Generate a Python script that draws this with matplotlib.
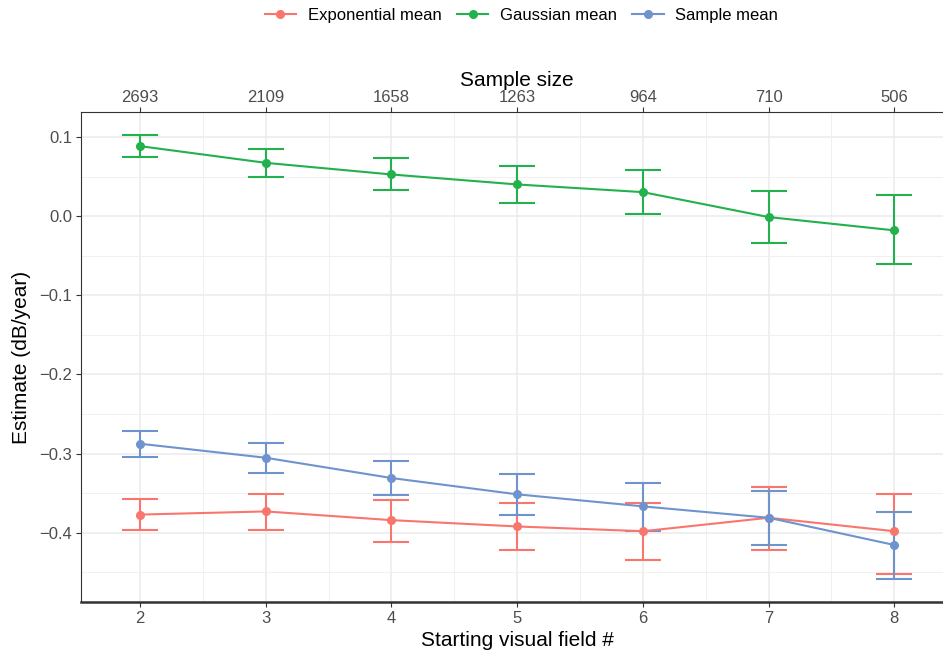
import matplotlib.pyplot as plt
from matplotlib.ticker import MultipleLocator, FixedLocator
from matplotlib.lines import Line2D

plt.rcParams['font.family'] = ['Liberation Sans', 'DejaVu Sans']

# starting visual field and sample sizes
fields = [2, 3, 4, 5, 6, 7, 8]
sample_sizes = ["2693", "2109", "1658", "1263", "964", "710", "506"]

# estimates with lower / upper bounds
exp_mean = [-0.377, -0.373, -0.384, -0.392, -0.398, -0.381, -0.398]
exp_lo = [-0.3965, -0.3965, -0.4116, -0.4221, -0.4343, -0.4213, -0.4516]
exp_hi = [-0.3577, -0.3514, -0.3586, -0.3628, -0.3628, -0.3418, -0.3506]

gau_mean = [0.0884, 0.0673, 0.0526, 0.040, 0.0303, -0.0012, -0.018]
gau_lo = [0.0745, 0.0496, 0.0328, 0.0168, 0.0021, -0.0345, -0.0606]
gau_hi = [0.1026, 0.0846, 0.0728, 0.0635, 0.0585, 0.0316, 0.0265]

smp_mean = [-0.2875, -0.3052, -0.3308, -0.3514, -0.3666, -0.381, -0.4154]
smp_lo = [-0.3043, -0.3241, -0.3519, -0.377, -0.3977, -0.4154, -0.4587]
smp_hi = [-0.2715, -0.2866, -0.3093, -0.3258, -0.3375, -0.3476, -0.3737]

series = [
    ("Exponential mean", exp_mean, exp_lo, exp_hi, "#F8766D"),
    ("Gaussian mean", gau_mean, gau_lo, gau_hi, "#22B14C"),
    ("Sample mean", smp_mean, smp_lo, smp_hi, "#6F94CD"),
]

fig = plt.figure(figsize=(9.43, 6.55), dpi=100)
ax = fig.add_axes([0.0864, 0.0814, 0.924, 0.747])

handles = []
for name, m, lo, hi, col in series:
    err = [[a - b for a, b in zip(m, lo)], [b - a for a, b in zip(m, hi)]]
    ax.errorbar(fields, m, yerr=err, color=col, lw=1.5, elinewidth=1.5,
                capsize=13.3, capthick=1.5, marker='o', ms=5.5, zorder=3)
    handles.append(Line2D([], [], color=col, lw=1.5, marker='o', ms=5.5, label=name))

ax.set_xlim(1.535, 8.465)
ax.set_ylim(-0.487, 0.131)
ax.xaxis.set_major_locator(FixedLocator(fields))
ax.xaxis.set_minor_locator(FixedLocator([2.5, 3.5, 4.5, 5.5, 6.5, 7.5]))
ax.yaxis.set_minor_locator(MultipleLocator(0.05))
yt = [-0.4, -0.3, -0.2, -0.1, 0.0, 0.1]
ax.set_yticks(yt)
ax.set_yticklabels([f"{v:.1f}".replace("-", "\u2212") for v in yt])

ax.grid(which='major', color='#EBEBEB', lw=1.1, zorder=0)
ax.grid(which='minor', color='#F0F0F0', lw=0.7, zorder=0)
ax.set_axisbelow(True)

for s in ax.spines.values():
    s.set_color('#333333')
    s.set_linewidth(0.8)
ax.spines['bottom'].set_linewidth(1.8)

ax.tick_params(which='major', length=3.5, width=0.8, color='#333333',
               labelsize=12, labelcolor='#4D4D4D', pad=3)
ax.tick_params(which='minor', length=0)
ax.set_xlabel("Starting visual field #", fontsize=15, labelpad=4)
ax.set_ylabel("Estimate (dB/year)", fontsize=15, labelpad=6)

top = ax.secondary_xaxis('top')
top.set_xticks(fields)
top.set_xticklabels(sample_sizes)
top.tick_params(length=3.5, width=0.8, color='#333333', labelsize=12,
                labelcolor='#4D4D4D', pad=2)
top.spines['top'].set_visible(False)
top.set_xlabel("Sample size", fontsize=15, labelpad=3)

fig.legend(handles=handles, loc='center', bbox_to_anchor=(0.553, 0.976),
           ncol=3, frameon=False, fontsize=12, handlelength=1.9,
           columnspacing=0.9, handletextpad=0.7)

fig.savefig("out.png", dpi=100)
